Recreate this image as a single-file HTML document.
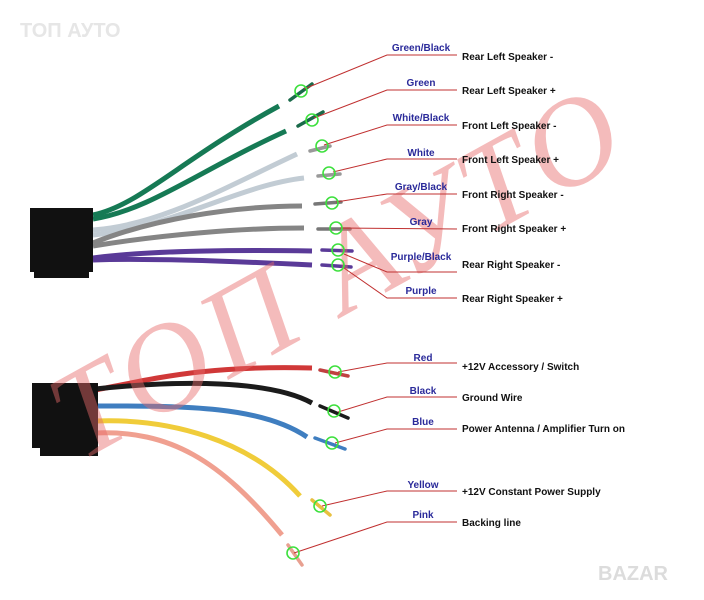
<!DOCTYPE html>
<html><head><meta charset="utf-8"><style>
body{margin:0;background:#fff}
svg{display:block}
.c{font-family:"Liberation Sans",sans-serif;font-weight:bold;font-size:10px;fill:#2a2a9a;text-anchor:middle}
.d{font-family:"Liberation Sans",sans-serif;font-weight:bold;font-size:10px;fill:#111}
.l{stroke:#c03030;stroke-width:1;fill:none}
.o{stroke:#3ee03e;stroke-width:1.6;fill:none}
.w{fill:none;stroke-linecap:butt}
</style></head><body>
<svg width="704" height="600" viewBox="0 0 704 600" xmlns="http://www.w3.org/2000/svg">
<text x="20" y="37" font-family="Liberation Sans,sans-serif" font-size="20" font-weight="bold" fill="#e6e6e6">ТОП АУТО</text>

<g class="w" stroke-width="5">
<path d="M93,215 C140,205 180,160 279,106" stroke="#167a55"/>
<path d="M93,219 C150,210 200,170 286,131" stroke="#167a55"/>
<path d="M93,230 C160,225 220,190 297,154" stroke="#c2ccd4"/>
<path d="M93,235 C170,228 240,185 304,178" stroke="#c2ccd4"/>
<path d="M93,243 C150,220 230,206 302,206" stroke="#858585"/>
<path d="M93,246 C160,235 240,228 304,228" stroke="#858585"/>
<path d="M93,258 C150,250 250,250 312,251" stroke="#5a3a98"/>
<path d="M93,260 C150,258 250,262 312,265" stroke="#5a3a98"/>
</g>
<g stroke-width="3.5" stroke-linecap="round">
<path d="M290,100 L312,84" stroke="#1a6a4a"/>
<path d="M298,126 L323,112" stroke="#1a6a4a"/>
<path d="M310,151 L330,146" stroke="#999"/>
<path d="M318,176 L340,174" stroke="#999"/>
<path d="M315,204 L341,202" stroke="#777"/>
<path d="M318,229 L350,229" stroke="#777"/>
<path d="M322,250 L352,251" stroke="#5a3a98"/>
<path d="M322,265 L351,267" stroke="#5a3a98"/>
</g>
<rect x="30" y="208" width="63" height="64" fill="#111"/>
<rect x="34" y="268" width="55" height="10" fill="#111"/>

<g class="w" stroke-width="5">
<path d="M95,390 C150,380 200,365 312,368" stroke="#d03838"/>
<path d="M95,389 C180,380 270,380 312,403" stroke="#1b1b1b"/>
<path d="M95,406 C180,406 260,405 307,437" stroke="#3f7ec0"/>
<path d="M95,421 C170,418 250,440 300,496" stroke="#f0cc3a"/>
<path d="M95,433 C170,430 220,460 282,535" stroke="#f0a090"/>
</g>
<g stroke-width="3.5" stroke-linecap="round">
<path d="M320,370 L348,376" stroke="#c04040"/>
<path d="M320,406 L348,418" stroke="#1b1b1b"/>
<path d="M315,438 L345,449" stroke="#3f7ec0"/>
<path d="M312,500 L330,515" stroke="#e8c040"/>
<path d="M288,545 L302,565" stroke="#e8a090"/>
</g>
<rect x="32" y="383" width="66" height="65" fill="#111"/>
<rect x="40" y="446" width="58" height="10" fill="#111"/>

<text x="0" y="0" transform="translate(80,462) rotate(-29)" font-family="Liberation Serif,serif" font-style="italic" font-size="125" textLength="630" lengthAdjust="spacing" fill="#e86a6a" opacity="0.45">ТОП АУТО</text>

<g class="l">
<path d="M304,89 L387,55 L457,55"/>
<path d="M314,118 L387,90 L457,90"/>
<path d="M324,145 L387,125 L457,125"/>
<path d="M333,172 L387,159 L457,159"/>
<path d="M336,202 L387,194 L457,194"/>
<path d="M340,228 L457,229"/>
<path d="M344,254 L387,272 L457,272"/>
<path d="M344,268 L387,298 L457,298"/>
<path d="M338,372 L387,363 L457,363"/>
<path d="M338,412 L387,397 L457,397"/>
<path d="M335,443 L387,429 L457,429"/>
<path d="M322,506 L387,491 L457,491"/>
<path d="M294,553 L387,522 L457,522"/>
</g>
<g class="o">
<circle cx="301" cy="91" r="6"/><circle cx="312" cy="120" r="6"/><circle cx="322" cy="146" r="6"/>
<circle cx="329" cy="173" r="6"/><circle cx="332" cy="203" r="6"/><circle cx="336" cy="228" r="6"/>
<circle cx="338" cy="250" r="6"/><circle cx="338" cy="265" r="6"/>
<circle cx="335" cy="372" r="6"/><circle cx="334" cy="411" r="6"/><circle cx="332" cy="443" r="6"/>
<circle cx="320" cy="506" r="6"/><circle cx="293" cy="553" r="6"/>
</g>

<g class="c">
<text x="421" y="51">Green/Black</text><text x="421" y="86">Green</text>
<text x="421" y="121">White/Black</text><text x="421" y="156">White</text>
<text x="421" y="190">Gray/Black</text><text x="421" y="225">Gray</text>
<text x="421" y="260">Purple/Black</text><text x="421" y="294">Purple</text>
<text x="423" y="361">Red</text><text x="423" y="394">Black</text>
<text x="423" y="425">Blue</text><text x="423" y="488">Yellow</text>
<text x="423" y="518">Pink</text>
</g>
<g class="d">
<text x="462" y="60">Rear Left Speaker -</text>
<text x="462" y="94">Rear Left Speaker +</text>
<text x="462" y="129">Front Left Speaker -</text>
<text x="462" y="163">Front Left Speaker +</text>
<text x="462" y="198">Front Right Speaker -</text>
<text x="462" y="232">Front Right Speaker +</text>
<text x="462" y="268">Rear Right Speaker -</text>
<text x="462" y="302">Rear Right Speaker +</text>
<text x="462" y="370">+12V  Accessory / Switch</text>
<text x="462" y="401">Ground Wire</text>
<text x="462" y="432">Power Antenna / Amplifier Turn on</text>
<text x="462" y="495">+12V Constant Power Supply</text>
<text x="462" y="526">Backing line</text>
</g>
<text x="598" y="580" font-family="Liberation Sans,sans-serif" font-size="20" font-weight="bold" fill="#dcdcdc">BAZAR</text>
</svg>
</body></html>
